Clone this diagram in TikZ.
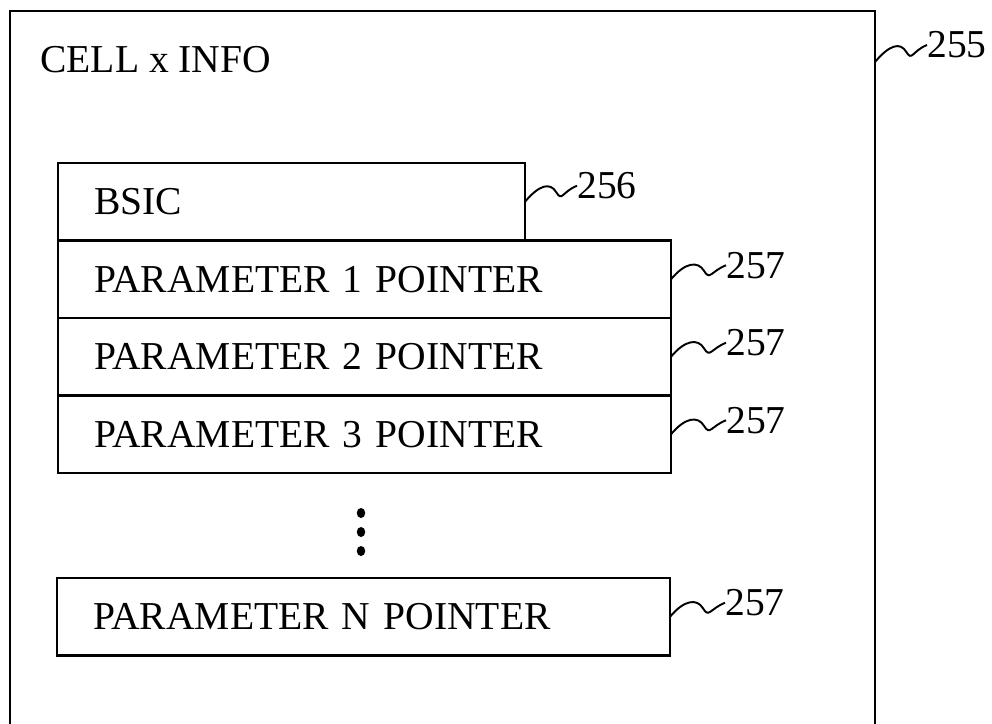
\documentclass[tikz,border=0pt]{standalone}
\usepackage{fontspec}
\setmainfont{Liberation Serif}
\usetikzlibrary{positioning, calc}

\begin{document}
\begin{tikzpicture}[
    every node/.style={font=\fontsize{22.5}{27}\selectfont},
    frame/.style={rectangle, draw, line width=1.2pt, outer sep=0pt},
    slot/.style={frame, anchor=north west, minimum height=1.55cm,
                 inner xsep=0.72cm, inner ysep=0pt, align=left},
    num/.style={inner sep=0pt, anchor=west},
    lead/.style={line width=1.1pt,
                 to path={.. controls +(50:0.45) and +(-0.12,0.2) ..
                 ($(\tikztostart)!0.6!(\tikztotarget)$)
                 .. controls +(0.12,-0.2) and +(-0.3,-0.12) .. (\tikztotarget)}},
  ]
  \clip (0,0) rectangle (19.84,-14.46);

  % outer record
  \node[frame, anchor=north west, minimum width=17.3cm, minimum height=15cm] (cell) at (0.2,-0.22) {};
  \node[inner sep=0pt, anchor=base west] (title) at (0.8,-1.44) {CELL x INFO};

  % fields
  \node[slot, text width=7.9cm] (bsic) at (1.16,-3.26) {BSIC};
  \node[slot, text width=10.82cm] (par1) at (bsic.south west) {PARAMETER 1 POINTER};
  \node[slot, text width=10.82cm] (par2) at (par1.south west) {PARAMETER 2 POINTER};
  \node[slot, text width=10.82cm] (par3) at (par2.south west) {PARAMETER 3 POINTER};
  \node[slot, text width=10.82cm] (parn) at (1.14,-11.56) {PARAMETER N POINTER};

  \foreach \y in {-10.26,-10.64,-11.02}
    \fill (7.22,\y) ellipse (0.085 and 0.1);

  % reference numerals
  \coordinate (tick) at ($(cell.north east)+(0,-1.02)$);
  \node[num] (n255) at ($(tick)+(1.04,0.34)$) {255};
  \node[num] (n256) at ($(bsic.east)+(1.04,0.32)$) {256};
  \node[num] (n257a) at ($(par1.east)+(1.1,0.28)$) {257};
  \node[num] (n257b) at ($(par2.east)+(1.1,0.28)$) {257};
  \node[num] (n257c) at ($(par3.east)+(1.1,0.28)$) {257};
  \node[num] (n257d) at ($(parn.east)+(1.1,0.28)$) {257};

  \draw[lead] (tick) to (n255.west);
  \draw[lead] (bsic.east) to (n256.west);
  \draw[lead] (par1.east) to (n257a.west);
  \draw[lead] (par2.east) to (n257b.west);
  \draw[lead] (par3.east) to (n257c.west);
  \draw[lead] (parn.east) to (n257d.west);
\end{tikzpicture}
\end{document}
